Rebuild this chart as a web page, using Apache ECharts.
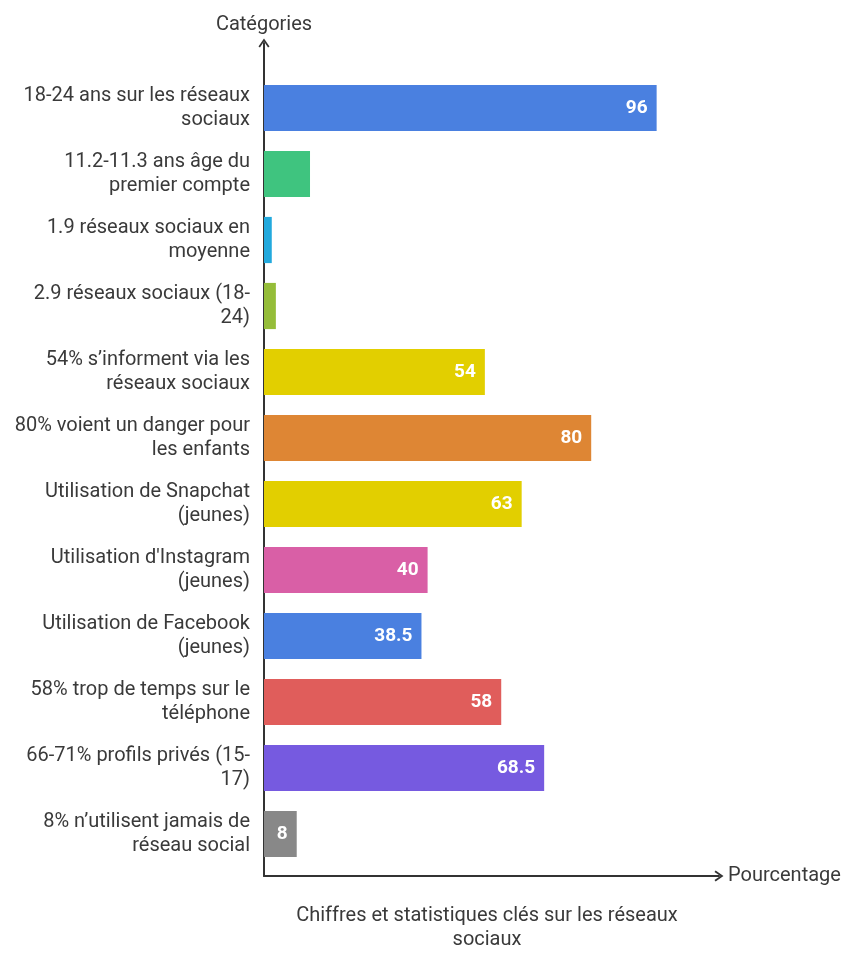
<!DOCTYPE html>
<html>
<head>
<meta charset="utf-8">
<script src="https://cdn.jsdelivr.net/npm/echarts@6/dist/echarts.min.js"></script>
<style>
  html, body { margin: 0; padding: 0; background: #fff; }
  #chart { width: 858px; height: 960px; }
</style>
</head>
<body>
<div id="chart"></div>
<script>
// categories, top to bottom
let categories = [
	'18-24 ans sur les réseaux\nsociaux',
	'11.2-11.3 ans âge du\npremier compte',
	'1.9 réseaux sociaux en\nmoyenne',
	'2.9 réseaux sociaux (18-\n24)',
	'54% s’informent via les\nréseaux sociaux',
	'80% voient un danger pour\nles enfants',
	'Utilisation de Snapchat\n(jeunes)',
	"Utilisation d'Instagram\n(jeunes)",
	'Utilisation de Facebook\n(jeunes)',
	'58% trop de temps sur le\ntéléphone',
	'66-71% profils privés (15-\n17)',
	'8% n’utilisent jamais de\nréseau social'
];
let values = [96, 11.25, 1.9, 2.9, 54, 80, 63, 40, 38.5, 58, 68.5, 8];
let colors = ['#4a80e0', '#3fc47f', '#22a9dd', '#95bd39', '#e2cf00', '#de8634',
	'#e2cf00', '#d95fa6', '#4a80e0', '#e05d5b', '#765ae0', '#888888'];
let noLabel = [1, 2, 3];

let textColor = '#3a3a3a';
let font = 'Roboto';
// open chevron arrow head
let chevron = 'path://M0,8.6 L6,0 L12,8.6 L10.4,9.8 L6,3.4 L1.6,9.8 Z';

let chartDom = document.getElementById('chart');
let chart = echarts.init(chartDom);

let seriesData = values.map((v, i) => ({
	value: v,
	itemStyle: { color: colors[i] },
	label: { show: noLabel.indexOf(i) < 0 }
}));

let option = {
	backgroundColor: '#ffffff',
	animation: false,
	textStyle: { fontFamily: font },
	title: {
		text: 'Chiffres et statistiques clés sur les réseaux\nsociaux',
		left: 482,
		top: 899,
		textAlign: 'center',
		textStyle: { fontFamily: font, fontSize: 20, fontWeight: 'normal', color: textColor, lineHeight: 24 }
	},
	grid: [
		// frame grid: only the arrowed axis lines
		{ left: 264, top: 43, right: 139, bottom: 84 },
		// bars
		{ left: 264, top: 75, right: 185, bottom: 93 }
	],
	xAxis: [
		{
			gridIndex: 0, type: 'value', min: 0, max: 1,
			name: 'Pourcentage', nameLocation: 'end', nameGap: 9,
			nameTextStyle: { fontFamily: font, fontSize: 20, color: textColor, padding: [4, 0, 0, 0] },
			axisLine: { show: true, symbol: ['none', chevron], symbolSize: [14, 9], lineStyle: { color: '#333333', width: 2 } },
			axisTick: { show: false }, axisLabel: { show: false }, splitLine: { show: false }
		},
		{
			gridIndex: 1, type: 'value', min: 0, max: 100,
			axisLine: { show: false }, axisTick: { show: false }, axisLabel: { show: false }, splitLine: { show: false }
		}
	],
	yAxis: [
		{
			gridIndex: 0, type: 'value', min: 0, max: 1,
			name: 'Catégories', nameLocation: 'end', nameGap: 8,
			nameTextStyle: { fontFamily: font, fontSize: 20, color: textColor, align: 'center' },
			axisLine: { show: true, symbol: ['none', chevron], symbolSize: [14, 9], lineStyle: { color: '#333333', width: 2 } },
			axisTick: { show: false }, axisLabel: { show: false }, splitLine: { show: false }
		},
		{
			gridIndex: 1, type: 'category', data: categories, inverse: true,
			axisLine: { show: false }, axisTick: { show: false },
			axisLabel: { fontFamily: font, fontSize: 20, color: textColor, lineHeight: 24, margin: 14, align: 'right', padding: [4, 0, 0, 0] }
		}
	],
	series: [{
		type: 'bar',
		xAxisIndex: 1,
		yAxisIndex: 1,
		barCategoryGap: '30%',
		data: seriesData,
		label: {
			position: 'insideRight',
			distance: 9,
			color: '#ffffff',
			fontFamily: font,
			fontWeight: 'bold',
			fontSize: 19
		}
	}]
};
chart.setOption(option);
</script>
</body>
</html>
